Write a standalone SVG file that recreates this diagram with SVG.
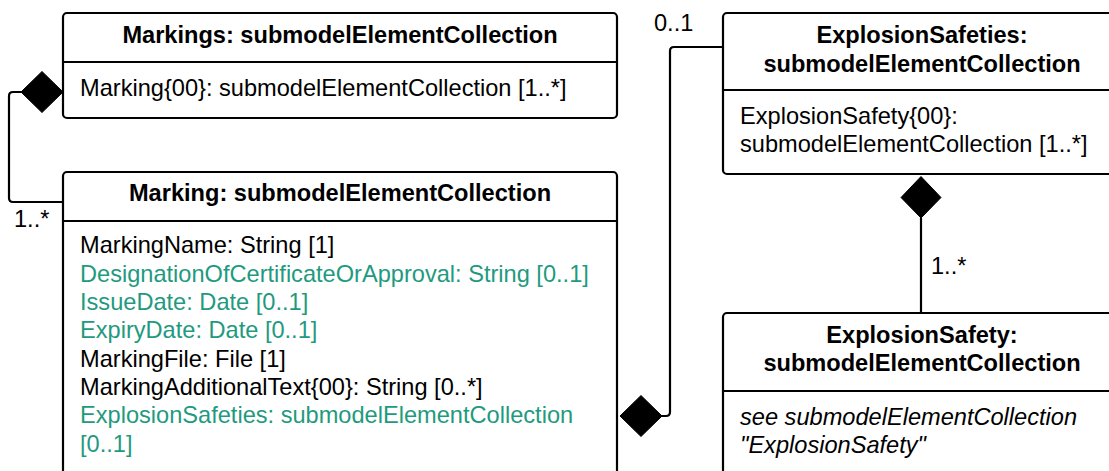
<svg xmlns="http://www.w3.org/2000/svg" width="1109" height="471" viewBox="0 0 1109 471">
<defs>
<style>
.box{fill:#fff;stroke:#000;stroke-width:2.2}
.div{stroke:#000;stroke-width:2.2;fill:none}
.t{font-family:"Liberation Sans",Arial,sans-serif;font-size:23.6px;fill:#000}
.b{font-weight:bold;text-anchor:middle}
.g{fill:#1f9a7f}
.i{font-style:italic}
.con{fill:none;stroke:#000;stroke-width:2.2}
.dia{fill:#000;stroke:#000;stroke-width:1}
</style>
</defs>
<g id="connectors">
<path class="con" d="M21 92 L13 92 Q9 92 9 96 L9 198 Q9 202 13 202 L63 202"/>
<polygon class="dia" points="21,92 42,71.5 63,92 42,112.5"/>
<text class="t" x="14" y="227">1..*</text>
<path class="con" d="M662 416 L666 416 Q670 416 670 412 L670 51 Q670 47 674 47 L723 47"/>
<polygon class="dia" points="620,416 641,395.5 662,416 641,436.5"/>
<text class="t" x="654" y="31">0..1</text>
<path class="con" d="M921 218 L921 313"/>
<polygon class="dia" points="921,176.5 941,197.5 921,218 901,197.5"/>
<text class="t" x="931" y="274">1..*</text>
</g>
<g id="markings">
<rect class="box" x="63" y="13" width="554" height="105" rx="4"/>
<line class="div" x1="63" y1="62" x2="617" y2="62"/>
<text class="t b" x="340" y="43">Markings: submodelElementCollection</text>
<text class="t" x="80" y="96">Marking{00}: submodelElementCollection [1..*]</text>
</g>
<g id="marking">
<rect class="box" x="63" y="172" width="554" height="320" rx="4"/>
<line class="div" x1="63" y1="221" x2="617" y2="221"/>
<text class="t b" x="340" y="201">Marking: submodelElementCollection</text>
<text class="t" x="80" y="253">MarkingName: String [1]</text>
<text class="t g" x="80" y="282">DesignationOfCertificateOrApproval: String [0..1]</text>
<text class="t g" x="80" y="310">IssueDate: Date [0..1]</text>
<text class="t g" x="80" y="338">ExpiryDate: Date [0..1]</text>
<text class="t" x="80" y="367">MarkingFile: File [1]</text>
<text class="t" x="80" y="395">MarkingAdditionalText{00}: String [0..*]</text>
<text class="t g" x="80" y="423">ExplosionSafeties: submodelElementCollection</text>
<text class="t g" x="80" y="452">[0..1]</text>
</g>
<g id="explosionSafeties">
<rect class="box" x="723" y="13" width="398" height="161" rx="4"/>
<line class="div" x1="723" y1="90" x2="1121" y2="90"/>
<text class="t b" x="922" y="43">ExplosionSafeties:</text>
<text class="t b" x="922" y="72">submodelElementCollection</text>
<text class="t" x="740" y="124">ExplosionSafety{00}:</text>
<text class="t" x="740" y="152">submodelElementCollection [1..*]</text>
</g>
<g id="explosionSafety">
<rect class="box" x="723" y="313" width="398" height="180" rx="4"/>
<line class="div" x1="723" y1="391" x2="1121" y2="391"/>
<text class="t b" x="922" y="343">ExplosionSafety:</text>
<text class="t b" x="922" y="371">submodelElementCollection</text>
<text class="t i" x="740" y="425">see submodelElementCollection</text>
<text class="t i" x="740" y="453">"ExplosionSafety"</text>
</g>
</svg>
